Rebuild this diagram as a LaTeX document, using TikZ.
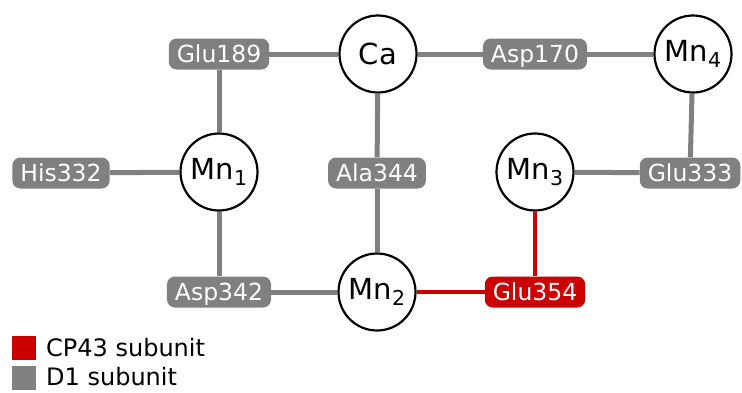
\documentclass[tikz,border=0pt]{standalone}
\usepackage{fontspec}
\setmainfont{DejaVu Sans}
\definecolor{dgray}{HTML}{808080}
\definecolor{cpred}{HTML}{CC0000}
\newcommand{\ionsub}[2]{#1\raisebox{-6pt}{\fontsize{20.5}{21}\selectfont #2}}
\tikzset{
  ion/.style={circle, draw=black, line width=2.2pt, fill=white, minimum size=77pt,
              inner sep=0pt, font=\fontsize{29}{30}\selectfont},
  residue/.style={rounded corners=8pt, fill=dgray, text=white, inner xsep=8pt,
                  minimum height=31pt, text height=17pt, text depth=0pt,
                  font=\fontsize{23.5}{25}\selectfont},
  cpres/.style={residue, fill=cpred},
  link/.style={draw=dgray, line width=5pt},
  cplink/.style={draw=cpred, line width=4pt},
  swatch/.style={minimum size=24pt, inner sep=0pt},
  legendtext/.style={anchor=base west, inner sep=0pt, font=\fontsize{24}{25}\selectfont}
}
\begin{document}
\begin{tikzpicture}[x=1pt,y=-1pt]
\useasboundingbox (0,0) rectangle (742,392);

% metal ions
\node[ion] (ca)  at (378,54)  {Ca};
\node[ion] (mn4) at (693,54)  {\ionsub{Mn}{4}};
\node[ion] (mn1) at (219,172) {\ionsub{Mn}{1}};
\node[ion] (mn3) at (535,172) {\ionsub{Mn}{3}};
\node[ion] (mn2) at (377,292) {\ionsub{Mn}{2}};

% coordinating residues
\node[residue] (glu189) at (219,54)  {Glu189};
\node[residue] (asp170) at (535,54)  {Asp170};
\node[residue] (his332) at (61,173)  {His332};
\node[residue] (ala344) at (377,173) {Ala344};
\node[residue] (glu333) at (690,173) {Glu333};
\node[residue] (asp342) at (219,292) {Asp342};
\node[cpres]   (glu354) at (535,292) {Glu354};

% ligand bonds
\draw[link] (glu189) -- (ca);
\draw[link] (ca) -- (asp170);
\draw[link] (asp170) -- (mn4);
\draw[link] (glu189) -- (mn1);
\draw[link] (his332) -- (mn1);
\draw[link] (mn1) -- (asp342);
\draw[link] (asp342) -- (mn2);
\draw[link] (ca) -- (ala344);
\draw[link] (ala344) -- (mn2);
\draw[link] (mn4) -- (glu333);
\draw[link] (mn3) -- (glu333);
\draw[cplink] (mn2) -- (glu354);
\draw[cplink] (mn3) -- (glu354);

% legend
\node[swatch, fill=cpred] (keycp) at (24,348) {};
\node[swatch, fill=dgray] (keyd1) at (24,378) {};
\node[legendtext] (labcp) at (46,356) {CP43 subunit};
\node[legendtext] (labd1) at (46,385) {D1 subunit};
\end{tikzpicture}
\end{document}
